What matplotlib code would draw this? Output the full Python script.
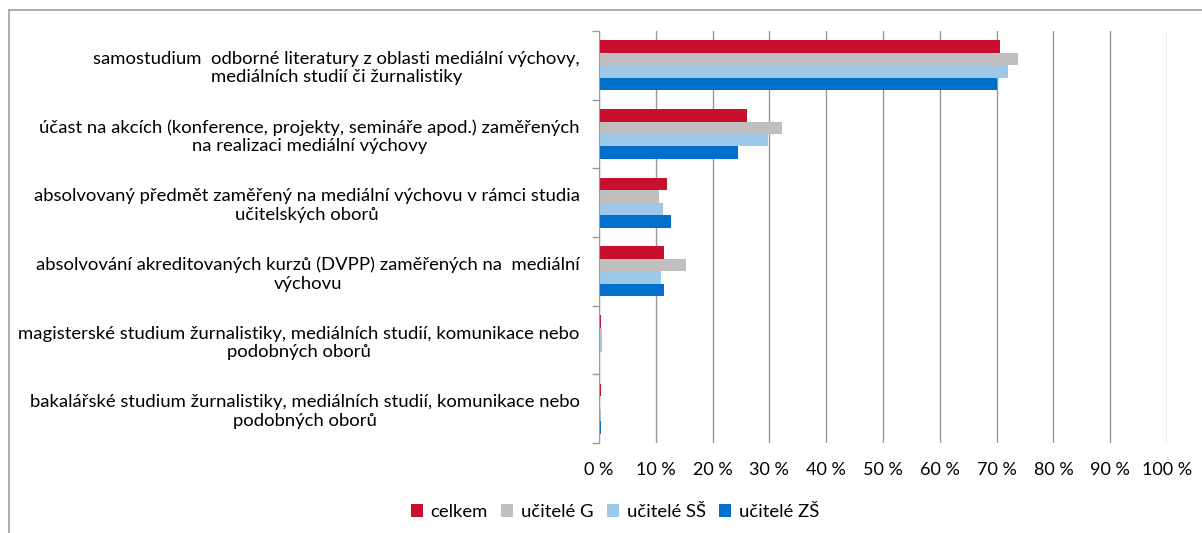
import matplotlib
matplotlib.use("Agg")
import matplotlib.pyplot as plt
import numpy as np
from matplotlib.lines import Line2D
from matplotlib.patches import Patch

categories = [
    "samostudium  odborné literatury z oblasti mediální výchovy,\nmediálních studií či žurnalistiky",
    "účast na akcích (konference, projekty, semináře apod.) zaměřených\nna realizaci mediální výchovy",
    "absolvovaný předmět zaměřený na mediální výchovu v rámci studia\nučitelských oborů",
    "absolvování akreditovaných kurzů (DVPP) zaměřených na  mediální\nvýchovu",
    "magisterské studium žurnalistiky, mediálních studií, komunikace nebo\npodobných oborů",
    "bakalářské studium žurnalistiky, mediálních studií, komunikace nebo\npodobných oborů",
]
series_names = ["celkem", "učitelé G", "učitelé SŠ", "učitelé ZŠ"]
celkem = [70.6, 26.0, 12.0, 11.5, 0.35, 0.35]
ucitele_g = [73.7, 32.3, 10.5, 15.4, 0.6, 0.0]
ucitele_ss = [72.0, 29.7, 11.2, 11.0, 0.6, 0.3]
ucitele_zs = [70.1, 24.5, 12.6, 11.5, 0.1, 0.4]
xticks = list(range(0, 101, 10))
xticklabels = [f"{v} %" for v in xticks]

colors = ["#C8102E", "#BFBFBF", "#9DC8E8", "#0070CC"]
series = [celkem, ucitele_g, ucitele_ss, ucitele_zs]

plt.rcParams['font.family'] = ['Lato', 'DejaVu Sans']
fig = plt.figure(figsize=(12.02, 5.33), dpi=100)
ax = fig.add_axes([599/1202, 1-443/533, (1167-599)/1202, (443-31)/533])

n = len(categories)
y = np.arange(n)
h = 0.182
for i, (vals, c) in enumerate(zip(series, colors)):
    ax.barh(y + (i - 1.5) * h, vals, height=h, color=c, label=series_names[i], zorder=3)

ax.set_ylim(n - 0.5, -0.5)
ax.set_xlim(0, 100)
ax.set_yticks(y)
ax.set_yticklabels(categories, fontsize=13.3, ha='right', multialignment='center',
                   linespacing=1.2)
ax.tick_params(axis='y', length=0, pad=14)
ax.set_yticks(np.arange(-0.5, n, 1), minor=True)
ax.tick_params(axis='y', which='minor', length=5, color='#999999', width=1)
ax.set_xticks(xticks)
ax.set_xticklabels(xticklabels, fontsize=13)
ax.tick_params(axis='x', length=0, pad=14)
ax.grid(axis='x', color='#999999', linewidth=1, zorder=0)
for s in ['top', 'right', 'bottom']:
    ax.spines[s].set_visible(False)
ax.spines['left'].set_color('#999999')
ax.spines['left'].set_zorder(4)

handles = [Patch(facecolor=c, edgecolor='none') for c in colors]
fig.legend(handles, series_names, loc='center', bbox_to_anchor=(615/1202, 1-512/533),
           ncol=4, frameon=False, fontsize=13.3, handlelength=0.65, handleheight=0.65,
           handletextpad=0.4, columnspacing=0.75)

fig.add_artist(Line2D([9/1202, 9/1202], [0, 1-10/533], color='#A0A0A0', linewidth=1.2, transform=fig.transFigure))
fig.add_artist(Line2D([9/1202, 1], [1-10/533, 1-10/533], color='#A0A0A0', linewidth=1.2, transform=fig.transFigure))

fig.savefig("out.png", dpi=100)
